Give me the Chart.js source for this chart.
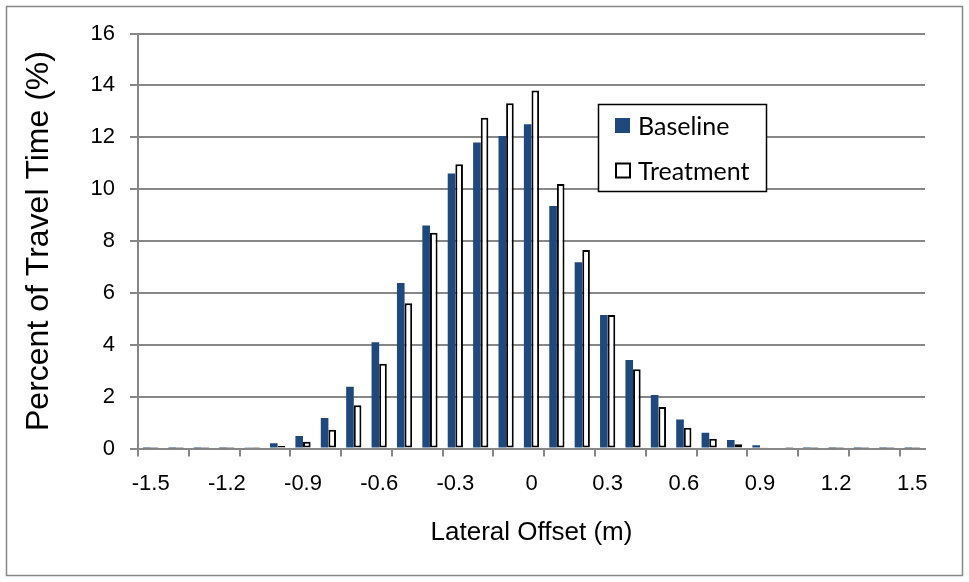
<!DOCTYPE html>
<html>
<head>
<meta charset="utf-8">
<title>Lateral Offset Distribution</title>
<script src="https://cdn.jsdelivr.net/npm/chart.js@4/dist/chart.umd.min.js"></script>
<style>
  html, body { margin: 0; padding: 0; background: #ffffff; }
  #wrap { width: 969px; height: 582px; position: relative; }
</style>
</head>
<body>
<div id="wrap"><canvas id="chart" width="969" height="582"></canvas></div>
<script>
// Lateral offset bins (m)
const offsets = ['-1.5','-1.4','-1.3','-1.2','-1.1','-1.0','-0.9','-0.8','-0.7','-0.6','-0.5',
                 '-0.4','-0.3','-0.2','-0.1','0','0.1','0.2','0.3','0.4','0.5',
                 '0.6','0.7','0.8','0.9','1.0','1.1','1.2','1.3','1.4','1.5'];

// Labels written under the axis
const shownLabels = ['-1.5','-1.2','-0.9','-0.6','-0.3','0','0.3','0.6','0.9','1.2','1.5'];

// Percent of travel time in each bin
const baseline  = [0.01, 0.01, 0.01, 0.01, 0.03, 0.20, 0.48, 1.18, 2.38, 4.10, 6.38,
                   8.60, 10.60, 11.80, 12.05, 12.50, 9.35, 7.18, 5.15, 3.41, 2.06,
                   1.12, 0.61, 0.33, 0.13, 0.04, 0.02, 0.01, 0.01, 0.01, 0.01];
const treatment = [0.01, 0.01, 0.01, 0.01, 0.02, 0.10, 0.26, 0.72, 1.67, 3.27, 5.60,
                   8.32, 10.96, 12.75, 13.31, 13.80, 10.20, 7.65, 5.15, 3.06, 1.60,
                   0.80, 0.38, 0.16, 0.05, 0.02, 0.01, 0.01, 0.01, 0.01, 0.01];

const AXIS_GRAY = '#878787';
const NAVY = '#1F497D';
const SANS = '"Liberation Sans", Arial, sans-serif';

// White page with a thin grey frame around the whole figure
const framePlugin = {
  id: 'frame',
  beforeDraw(chart) {
    const ctx = chart.ctx;
    ctx.save();
    ctx.fillStyle = '#ffffff';
    ctx.fillRect(0, 0, chart.width, chart.height);
    ctx.strokeStyle = AXIS_GRAY;
    ctx.lineWidth = 1.5;
    ctx.strokeRect(6.5, 6.5, chart.width - 13, chart.height - 13);
    ctx.restore();
  }
};

// Boxed legend sitting inside the plot, right of the peak
const boxLegendPlugin = {
  id: 'boxLegend',
  afterDraw(chart) {
    const ctx = chart.ctx;
    const x = 598.5, y = 104.5, w = 168, h = 87;
    ctx.save();
    ctx.fillStyle = '#ffffff';
    ctx.fillRect(x, y, w, h);
    ctx.strokeStyle = '#000000';
    ctx.lineWidth = 1.5;
    ctx.strokeRect(x, y, w, h);

    ctx.font = '25px Lato, "Open Sans", sans-serif';
    ctx.textBaseline = 'middle';
    ctx.textAlign = 'left';
    const rows = [125.5, 170.5];
    chart.data.datasets.forEach((ds, i) => {
      const cy = rows[i];
      if (ds.borderWidth) {
        ctx.fillStyle = ds.backgroundColor;
        ctx.fillRect(616, cy - 7, 14, 14);
        ctx.strokeStyle = ds.borderColor;
        ctx.lineWidth = 2;
        ctx.strokeRect(616, cy - 7, 14, 14);
      } else {
        ctx.fillStyle = ds.backgroundColor;
        ctx.fillRect(615, cy - 7.5, 15, 15);
      }
      ctx.fillStyle = '#000000';
      ctx.fillText(ds.label, 638, cy + 1);
    });
    ctx.restore();
  }
};

new Chart(document.getElementById('chart'), {
  type: 'bar',
  data: {
    labels: offsets,
    datasets: [
      {
        label: 'Baseline',
        data: baseline,
        backgroundColor: NAVY,
        borderWidth: 0,
        categoryPercentage: 0.6,
        barPercentage: 1.0
      },
      {
        label: 'Treatment',
        data: treatment,
        backgroundColor: '#ffffff',
        borderColor: '#000000',
        borderWidth: 2,
        borderSkipped: false,
        categoryPercentage: 0.6,
        barPercentage: 1.0
      }
    ]
  },
  options: {
    responsive: false,
    animation: false,
    devicePixelRatio: 1,
    layout: { padding: { left: 0, right: 44, top: 33.5, bottom: 34 } },
    plugins: {
      legend: { display: false },
      tooltip: { enabled: false }
    },
    scales: {
      x: {
        type: 'category',
        afterFit(scale) { scale.height = 99.5; },
        grid: {
          offset: true,
          drawOnChartArea: false,
          drawTicks: true,
          tickLength: 8,
          lineWidth: 2,
          color: (c) => (c.index !== undefined && c.index % 2 === 0) ? AXIS_GRAY : 'rgba(0,0,0,0)'
        },
        border: { display: true, color: AXIS_GRAY, width: 2 },
        ticks: {
          autoSkip: false,
          maxRotation: 0,
          minRotation: 0,
          padding: 14,
          color: '#000000',
          font: { family: SANS, size: 22 },
          callback: function (value, index) {
            const lab = offsets[index];
            return shownLabels.includes(lab) ? lab : '';
          }
        },
        title: {
          display: true,
          text: 'Lateral Offset (m)',
          color: '#000000',
          font: { family: SANS, size: 26 },
          padding: { top: 0, bottom: 0 }
        }
      },
      y: {
        min: 0,
        max: 16,
        afterFit(scale) { scale.width = 138; },
        grid: {
          color: AXIS_GRAY,
          lineWidth: 2,
          drawTicks: true,
          tickLength: 8
        },
        border: { display: true, color: AXIS_GRAY, width: 2 },
        ticks: {
          stepSize: 2,
          padding: 15,
          color: '#000000',
          font: { family: SANS, size: 22 }
        },
        title: {
          display: true,
          text: 'Percent of Travel Time (%)',
          color: '#000000',
          font: { family: SANS, size: 32 },
          padding: { top: 20, bottom: 0 }
        }
      }
    }
  },
  plugins: [framePlugin, boxLegendPlugin]
});
</script>
</body>
</html>
